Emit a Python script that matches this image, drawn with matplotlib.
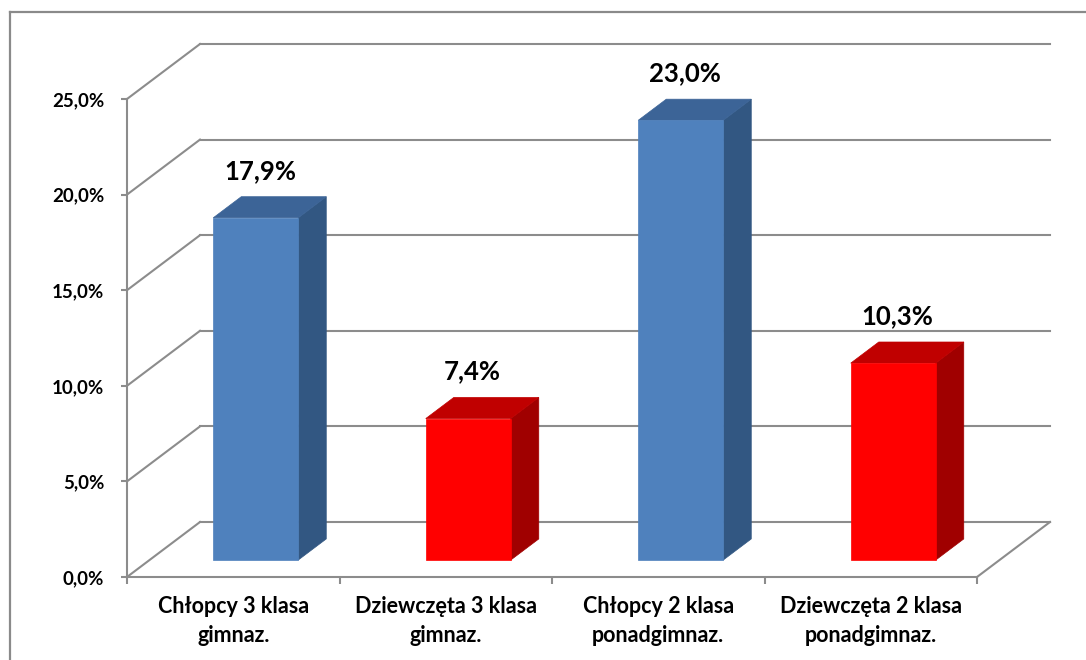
import matplotlib.pyplot as plt
from matplotlib.patches import Polygon
from matplotlib.lines import Line2D
from matplotlib.ticker import FuncFormatter

# data
categories = ["Chłopcy 3 klasa\ngimnaz.", "Dziewczęta 3 klasa\ngimnaz.",
              "Chłopcy 2 klasa\nponadgimnaz.", "Dziewczęta 2 klasa\nponadgimnaz."]
values = [17.9, 7.4, 23.0, 10.3]
y_ticks = [0, 5, 10, 15, 20, 25]

# face colours: front, top, side
blue = ("#4f81bd", "#3c6497", "#325782")
red = ("#ff0000", "#c00000", "#a00000")
bar_colors = [blue, red, blue, red]

plt.rcParams["font.family"] = ["Lato", "DejaVu Sans"]
plt.rcParams["font.weight"] = "bold"

W, H = 1086, 660
fig = plt.figure(figsize=(W / 100, H / 100), dpi=100)

# front plane of the 3d box in pixel terms
x0_px, x1_px = 127, 977
y0_px, y1_px = 577, 99
ax = fig.add_axes([x0_px / W, (H - y0_px) / H, (x1_px - x0_px) / W, (y0_px - y1_px) / H])
ax.set_xlim(0, 4)
ax.set_ylim(0, 25)

# depth offset of the back wall, in data units
px_per_cat = (x1_px - x0_px) / 4
px_per_pct = (y0_px - y1_px) / 25
ddx = 73 / px_per_cat
ddy = 55 / px_per_pct

grid_col = "#8c8c8c"
lw = 1.5

# back wall gridlines and side-wall diagonals
for v in y_ticks:
    ax.add_line(Line2D([ddx, 4 + ddx], [v + ddy, v + ddy], color=grid_col, lw=lw, clip_on=False, zorder=1))
    ax.add_line(Line2D([0, ddx], [v, v + ddy], color=grid_col, lw=lw, clip_on=False, zorder=1))
# right edge of the floor
ax.add_line(Line2D([4, 4 + ddx], [0, ddy], color=grid_col, lw=lw, clip_on=False, zorder=1))

# bars
gap = 0.308   # depth fraction in front of the bar
depth = 0.384  # depth fraction of the bar itself
bw = 0.4
for i, (val, cols) in enumerate(zip(values, bar_colors)):
    xl = i + 0.5 - bw / 2 + gap * ddx
    xr = xl + bw
    yb = gap * ddy
    yt = yb + val
    ox, oy = depth * ddx, depth * ddy
    front, top, side = cols
    ax.add_patch(Polygon([(xr, yb), (xr + ox, yb + oy), (xr + ox, yt + oy), (xr, yt)],
                         closed=True, facecolor=side, edgecolor=side, lw=0.5, clip_on=False, zorder=3))
    ax.add_patch(Polygon([(xl, yt), (xr, yt), (xr + ox, yt + oy), (xl + ox, yt + oy)],
                         closed=True, facecolor=top, edgecolor=top, lw=0.5, clip_on=False, zorder=3))
    ax.add_patch(Polygon([(xl, yb), (xr, yb), (xr, yt), (xl, yt)],
                         closed=True, facecolor=front, edgecolor=front, lw=0.5, clip_on=False, zorder=4))
    label = f"{val:.1f}%".replace(".", ",")
    ax.text(i + 0.5 + gap * ddx + 0.02, yt + oy + 1.36, label, ha="center", va="center",
            fontsize=18.5, fontweight="bold", color="black", zorder=5)

# axes
for s in ["top", "right"]:
    ax.spines[s].set_visible(False)
for s in ["left", "bottom"]:
    ax.spines[s].set_color(grid_col)
    ax.spines[s].set_linewidth(lw)
ax.patch.set_visible(False)

ax.set_yticks(y_ticks)
ax.yaxis.set_major_formatter(FuncFormatter(lambda v, p: f"{v:.1f}%".replace(".", ",")))
ax.tick_params(axis="y", direction="out", length=4.5, width=lw, color=grid_col,
               pad=12, labelsize=13.5, labelcolor="black")

ax.set_xticks([0, 1, 2, 3, 4])
ax.set_xticklabels([])
ax.set_xticks([0.5, 1.5, 2.5, 3.5], minor=True)
ax.set_xticklabels(categories, minor=True, fontsize=15.5, fontweight="bold", linespacing=1.46)
ax.tick_params(axis="x", which="major", direction="out", length=5, width=lw, color=grid_col)
ax.tick_params(axis="x", which="minor", length=0, pad=14)

# chart area border (left and top edges)
fig.add_artist(Line2D([9.5 / W, 9.5 / W], [0, (H - 12) / H], color="#8a8a8a", lw=1.6))
fig.add_artist(Line2D([9.5 / W, 1], [(H - 12) / H, (H - 12) / H], color="#8a8a8a", lw=1.6))

fig.savefig("out.png", dpi=100)
